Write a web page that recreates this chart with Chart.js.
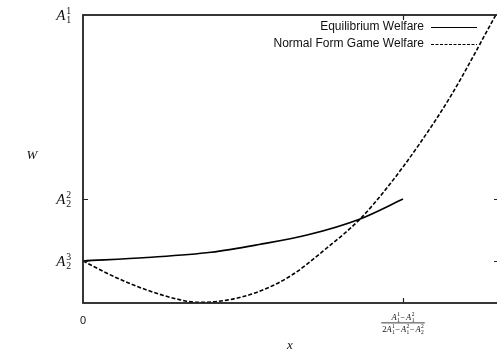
<!DOCTYPE html>
<html>
<head>
<meta charset="utf-8">
<script src="https://cdn.jsdelivr.net/npm/chart.js@4.4.0/dist/chart.umd.min.js"></script>
<style>
html, body { margin: 0; padding: 0; background: #fff; overflow: hidden; }
#wrap { width: 500px; height: 360px; }
</style>
</head>
<body>
<div id="wrap"><canvas id="GraficoBemEstar" width="500" height="360"></canvas></div>
<script>
// valores
var xEquilibrio = [0, 0.2, 0.4, 0.55, 0.7, 0.866, 1.0];
var yEquilibrio = [0.146, 0.158, 0.176, 0.203, 0.236, 0.292, 0.361];

var xNormal = [0, 0.1, 0.2, 0.3, 0.36, 0.45, 0.55, 0.65, 0.75, 0.866, 0.95, 1.05, 1.15, 1.29];
var yNormal = [0.146, 0.09, 0.045, 0.012, 0.002, 0.01, 0.04, 0.095, 0.18, 0.292, 0.40, 0.55, 0.72, 1.0];

var xTicks = [0, 1];
var xTickLabels = [
    '0',
    {
        num: [['A', '1', '1'], '\u2212', ['A', '1', '2']],
        den: ['2', ['A', '1', '1'], '\u2212', ['A', '1', '2'], '\u2212', ['A', '2', '2']]
    }
];
var yTicks = [0.146, 0.361, 1];
var yTickLabels = [['A', '2', '3'], ['A', '2', '2'], ['A', '1', '1']];

var yTitle = 'W';
var xTitle = 'x';

function PegarPontos(xs, ys) {
    return xs.map(function (x, i) { return { x: x, y: ys[i] }; });
}

var SERIF = '"Liberation Serif", "DejaVu Serif", serif';
var SANS = '"Liberation Sans", Arial, sans-serif';

function LarguraTokens(ctx, tokens, size) {
    var w = 0;
    tokens.forEach(function (t) {
        if (typeof t === 'string') {
            ctx.font = size + 'px ' + SERIF;
            w += ctx.measureText(t).width + (t === '\u2212' ? size * 0.15 : 0);
        } else {
            ctx.font = 'italic ' + size + 'px ' + SERIF;
            w += ctx.measureText(t[0]).width;
            ctx.font = (size * 0.65) + 'px ' + SERIF;
            w += Math.max(ctx.measureText(t[1]).width, ctx.measureText(t[2]).width) + size * 0.05;
        }
    });
    return w;
}

function DesenharTokens(ctx, tokens, x, y, size) {
    ctx.textAlign = 'left';
    ctx.textBaseline = 'alphabetic';
    tokens.forEach(function (t) {
        if (typeof t === 'string') {
            ctx.font = size + 'px ' + SERIF;
            var extra = t === '\u2212' ? size * 0.075 : 0;
            ctx.fillText(t, x + extra, y);
            x += ctx.measureText(t).width + extra * 2;
        } else {
            ctx.font = 'italic ' + size + 'px ' + SERIF;
            ctx.fillText(t[0], x, y);
            x += ctx.measureText(t[0]).width + size * 0.05;
            var s = size * 0.65;
            ctx.font = s + 'px ' + SERIF;
            ctx.fillText(t[2], x, y - size * 0.42);
            ctx.fillText(t[1], x, y + size * 0.22);
            x += Math.max(ctx.measureText(t[1]).width, ctx.measureText(t[2]).width);
        }
    });
}

var moldura = {
    id: 'moldura',
    afterDraw: function (chart) {
        var ctx = chart.ctx;
        var a = chart.chartArea;
        var sx = chart.scales.x, sy = chart.scales.y;
        ctx.save();

        // caixa
        ctx.strokeStyle = '#222';
        ctx.lineWidth = 1.8;
        ctx.strokeRect(a.left, a.top, a.right - a.left, a.bottom - a.top);

        // marcas para dentro
        ctx.lineWidth = 1.2;
        ctx.beginPath();
        sy.ticks.forEach(function (t) {
            var py = Math.round(sy.getPixelForValue(t.value)) + 0.5;
            if (Math.abs(py - a.top) < 2 || Math.abs(py - a.bottom) < 2) return;
            ctx.moveTo(a.left, py); ctx.lineTo(a.left + 5, py);
            ctx.moveTo(a.right, py); ctx.lineTo(a.right - 5, py);
        });
        sx.ticks.forEach(function (t) {
            var px = Math.round(sx.getPixelForValue(t.value)) + 0.5;
            if (Math.abs(px - a.left) < 2 || Math.abs(px - a.right) < 2) return;
            ctx.moveTo(px, a.bottom); ctx.lineTo(px, a.bottom - 5);
            ctx.moveTo(px, a.top); ctx.lineTo(px, a.top + 5);
        });
        ctx.stroke();

        // rotulos do eixo y
        ctx.fillStyle = '#111';
        sy.ticks.forEach(function (t, i) {
            var py = sy.getPixelForValue(t.value);
            var tokens = [yTickLabels[i]];
            var w = LarguraTokens(ctx, tokens, 15);
            DesenharTokens(ctx, tokens, a.left - 12 - w, py + 5, 15);
        });

        // rotulos do eixo x
        sx.ticks.forEach(function (t, i) {
            var px = sx.getPixelForValue(t.value);
            var lab = xTickLabels[i];
            if (typeof lab === 'string') {
                ctx.font = '11px ' + SANS;
                ctx.textAlign = 'center';
                ctx.textBaseline = 'middle';
                ctx.fillText(lab, px, a.bottom + 18);
            } else {
                var fs = 8.5;
                var wn = LarguraTokens(ctx, lab.num, fs);
                var wd = LarguraTokens(ctx, lab.den, fs);
                DesenharTokens(ctx, lab.num, px - wn / 2, a.bottom + 17, fs);
                ctx.fillRect(px - wd / 2 - 1, a.bottom + 19.5, wd + 2, 0.8);
                DesenharTokens(ctx, lab.den, px - wd / 2, a.bottom + 29, fs);
            }
        });

        // titulos dos eixos
        ctx.font = 'italic 13px ' + SERIF;
        ctx.textAlign = 'center';
        ctx.textBaseline = 'middle';
        ctx.fillText(yTitle, 32, 156);
        ctx.fillText(xTitle, 290, 346);

        // legenda
        ctx.font = '12px ' + SANS;
        ctx.textAlign = 'right';
        chart.data.datasets.forEach(function (ds, i) {
            var ly = 27 + i * 17;
            ctx.fillStyle = '#111';
            ctx.fillText(ds.label, 424, ly);
            ctx.strokeStyle = '#000';
            ctx.lineWidth = 1;
            ctx.setLineDash(ds.borderDash ? [3, 1.5] : []);
            ctx.beginPath();
            ctx.moveTo(431, Math.round(ly) + 0.5);
            ctx.lineTo(477, Math.round(ly) + 0.5);
            ctx.stroke();
        });
        ctx.setLineDash([]);
        ctx.restore();
    }
};

new Chart(document.getElementById('GraficoBemEstar'), {
    type: 'line',
    data: {
        datasets: [{
            label: 'Equilibrium Welfare',
            data: PegarPontos(xEquilibrio, yEquilibrio),
            borderColor: '#000',
            borderWidth: 1.6,
            pointRadius: 0,
            fill: false,
            cubicInterpolationMode: 'monotone'
        }, {
            label: 'Normal Form Game Welfare',
            data: PegarPontos(xNormal, yNormal),
            borderColor: '#000',
            borderWidth: 1.6,
            borderDash: [4, 2],
            pointRadius: 0,
            fill: false,
            cubicInterpolationMode: 'monotone'
        }]
    },
    options: {
        responsive: false,
        animation: false,
        devicePixelRatio: 1,
        layout: { padding: { left: 83, top: 15, right: 1, bottom: 57 } },
        plugins: { legend: { display: false }, tooltip: { enabled: false } },
        scales: {
            x: {
                type: 'linear',
                min: 0,
                max: 1.3,
                grid: { display: false, drawTicks: false },
                border: { display: false },
                ticks: { display: false },
                afterBuildTicks: function (s) { s.ticks = xTicks.map(function (v) { return { value: v }; }); }
            },
            y: {
                type: 'linear',
                min: 0,
                max: 1,
                grid: { display: false, drawTicks: false },
                border: { display: false },
                ticks: { display: false },
                afterBuildTicks: function (s) { s.ticks = yTicks.map(function (v) { return { value: v }; }); }
            }
        }
    },
    plugins: [moldura]
});
</script>
</body>
</html>
